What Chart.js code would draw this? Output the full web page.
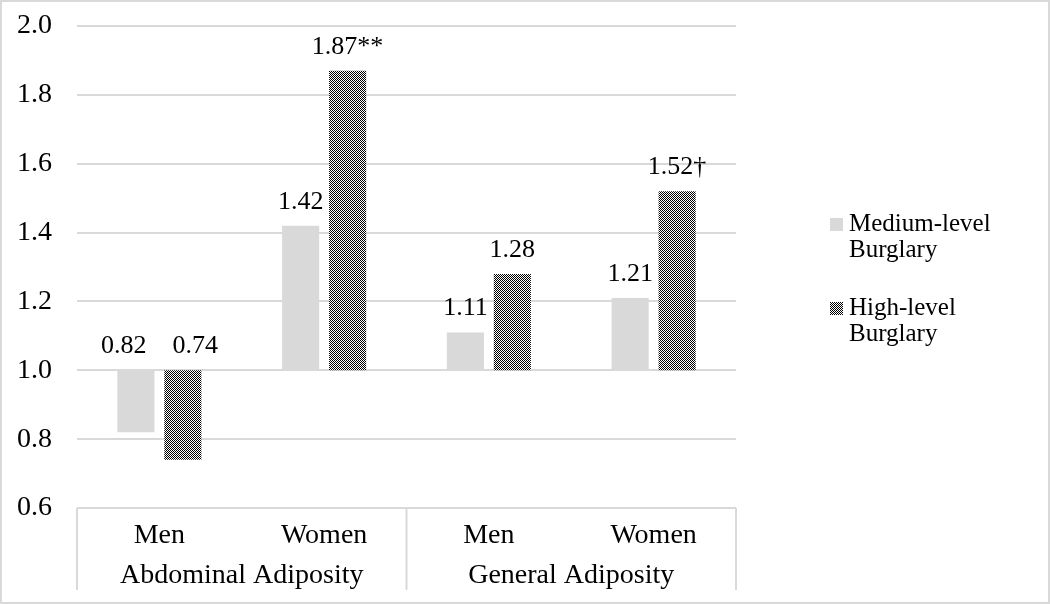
<!DOCTYPE html>
<html>
<head>
<meta charset="utf-8">
<script src="https://cdn.jsdelivr.net/npm/chart.js@4/dist/chart.umd.min.js"></script>
<style>
    html, body { margin: 0; padding: 0; background: #fff; }
    #wrap { position: relative; width: 1050px; height: 604px; }
</style>
</head>
<body>
<div id="wrap"><canvas id="chart" width="1050" height="604"></canvas></div>
<script>
    // Data
    const categories = ['Men', 'Women', 'Men', 'Women'];
    const groups = ['Abdominal Adiposity', 'General Adiposity'];
    const baseline = 1.0;
    const mediumValues = [0.82, 1.42, 1.11, 1.21];
    const highValues = [0.74, 1.87, 1.28, 1.52];
    const mediumNotes = ['', '', '', ''];
    const highNotes = ['', '**', '', '\u2020'];
    const seriesNames = [['Medium-level', 'Burglary'], ['High-level', 'Burglary']];
    const yTicks = [0.6, 0.8, 1.0, 1.2, 1.4, 1.6, 1.8, 2.0];

    const FONT = '"Liberation Serif", "Times New Roman", serif';
    const GRID = '#d9d9d9';

    // Fine black/white checker used for the high-level bars
    function checkerPattern() {
        const pc = document.createElement('canvas');
        pc.width = 2; pc.height = 2;
        const c = pc.getContext('2d');
        c.fillStyle = '#ffffff';
        c.fillRect(0, 0, 2, 2);
        c.fillStyle = '#000000';
        c.fillRect(0, 0, 1, 1);
        c.fillRect(1, 1, 1, 1);
        return c.createPattern(pc, 'repeat');
    }
    const checker = checkerPattern();

    // Light frame round the whole picture
    const framePlugin = {
        id: 'frame',
        afterDraw(chart) {
            const ctx = chart.ctx;
            ctx.save();
            ctx.strokeStyle = GRID;
            ctx.lineWidth = 2;
            ctx.strokeRect(1, 1, chart.width - 2, chart.height - 2);
            ctx.restore();
        }
    };

    // Value labels above each bar (above the 1.0 end for bars below 1)
    const valueLabels = {
        id: 'valueLabels',
        afterDatasetsDraw(chart) {
            const ctx = chart.ctx;
            const minGap = 26;
            ctx.save();
            ctx.font = '26px ' + FONT;
            ctx.fillStyle = '#000';
            ctx.textAlign = 'center';
            ctx.textBaseline = 'alphabetic';
            categories.forEach((_, i) => {
                // one label per dataset in this category
                const items = chart.data.datasets.map((ds, di) => {
                    const bar = chart.getDatasetMeta(di).data[i];
                    const text = ds.data[i][1].toFixed(2) + ds.notes[i];
                    return {
                        text, x: bar.x,
                        y: Math.min(bar.y, bar.base) - 17,
                        w: ctx.measureText(text).width
                    };
                });
                // push apart labels that sit at the same height and crowd each other
                const a = items[0], b = items[1];
                if (Math.abs(a.y - b.y) < 26) {
                    const gap = (b.x - b.w / 2) - (a.x + a.w / 2);
                    if (gap < minGap) {
                        const shift = (minGap - gap) / 2;
                        a.x -= shift;
                        b.x += shift;
                    }
                }
                items.forEach(it => ctx.fillText(it.text, it.x, it.y));
            });
            ctx.restore();
        }
    };

    // Group separators and group names under the category ticks
    const groupAxis = {
        id: 'groupAxis',
        afterDraw(chart) {
            const ctx = chart.ctx;
            const x = chart.scales.x;
            const area = chart.chartArea;
            const per = categories.length / groups.length;
            const step = (area.right - area.left) / categories.length;
            ctx.save();
            ctx.strokeStyle = GRID;
            ctx.lineWidth = 2;
            for (let g = 0; g <= groups.length; g++) {
                const px = x.getPixelForValue(g * per) - step / 2;
                ctx.beginPath();
                ctx.moveTo(px, area.bottom);
                ctx.lineTo(px, 590);
                ctx.stroke();
            }
            ctx.font = '28px ' + FONT;
            ctx.fillStyle = '#000';
            ctx.textAlign = 'center';
            ctx.textBaseline = 'middle';
            groups.forEach((name, g) => {
                const a = x.getPixelForValue(g * per);
                const b = x.getPixelForValue(g * per + per - 1);
                ctx.fillText(name, (a + b) / 2, 576);
            });
            ctx.restore();
        }
    };

    // Legend on the right, two-line labels
    const sideLegend = {
        id: 'sideLegend',
        afterDraw(chart) {
            const ctx = chart.ctx;
            const tops = [218, 302];
            ctx.save();
            ctx.font = '25px ' + FONT;
            ctx.textBaseline = 'alphabetic';
            ctx.textAlign = 'left';
            chart.data.datasets.forEach((ds, di) => {
                const y = tops[di];
                ctx.fillStyle = ds.backgroundColor;
                ctx.fillRect(830, y, 13, 13);
                ctx.fillStyle = '#000';
                seriesNames[di].forEach((line, li) => {
                    ctx.fillText(line, 849, y + 13 + li * 26);
                });
            });
            ctx.restore();
        }
    };

    new Chart(document.getElementById('chart'), {
        type: 'bar',
        data: {
            labels: categories,
            datasets: [
                {
                    label: seriesNames[0].join(' '),
                    data: mediumValues.map(v => [baseline, v]),
                    notes: mediumNotes,
                    backgroundColor: '#d9d9d9',
                    borderWidth: 0,
                    categoryPercentage: 0.57,
                    barPercentage: 0.79
                },
                {
                    label: seriesNames[1].join(' '),
                    data: highValues.map(v => [baseline, v]),
                    notes: highNotes,
                    backgroundColor: checker,
                    borderWidth: 0,
                    categoryPercentage: 0.57,
                    barPercentage: 0.79
                }
            ]
        },
        options: {
            responsive: false,
            animation: false,
            layout: { padding: { top: 26, right: 314, bottom: 0, left: 0 } },
            plugins: {
                legend: { display: false },
                tooltip: { enabled: false }
            },
            scales: {
                x: {
                    grid: { display: false, drawTicks: false },
                    border: { display: false },
                    ticks: {
                        color: '#000',
                        font: { family: FONT, size: 28 },
                        padding: 11
                    },
                    afterFit(scale) { scale.height = 96; }
                },
                y: {
                    min: yTicks[0],
                    max: yTicks[yTicks.length - 1],
                    afterBuildTicks(scale) {
                        scale.ticks = yTicks.map(v => ({ value: v }));
                    },
                    // invisible tick marks give the gap between labels and plot
                    grid: { color: GRID, lineWidth: 2, drawTicks: true, tickLength: 25, tickColor: 'rgba(0,0,0,0)' },
                    border: { display: false },
                    ticks: {
                        color: '#000',
                        font: { family: FONT, size: 28 },
                        padding: 0,
                        callback: v => Number(v).toFixed(1)
                    },
                    afterFit(scale) { scale.width = 77; }
                }
            }
        },
        plugins: [valueLabels, groupAxis, sideLegend, framePlugin]
    });
</script>
</body>
</html>
